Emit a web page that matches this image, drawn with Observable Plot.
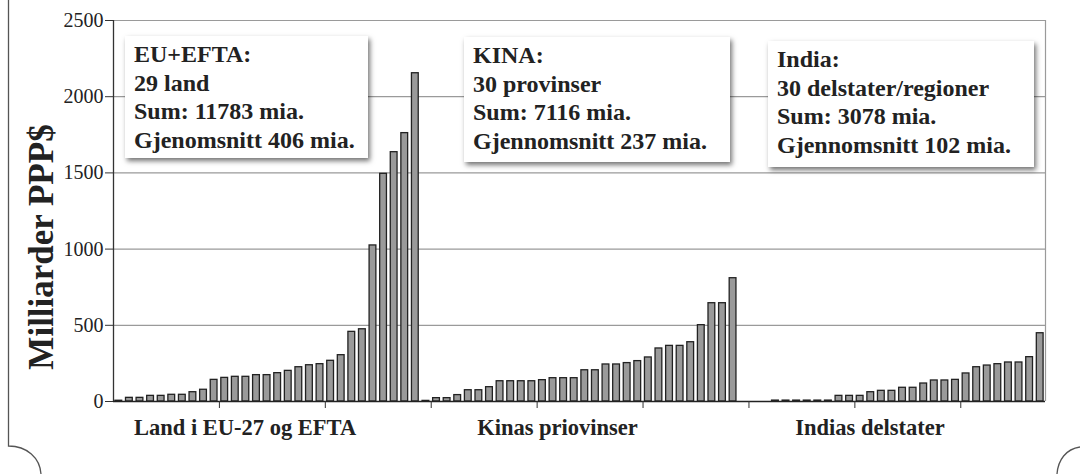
<!DOCTYPE html>
<html><head><meta charset="utf-8">
<script src="https://cdn.jsdelivr.net/npm/d3@7"></script>
<script src="https://cdn.jsdelivr.net/npm/@observablehq/plot@0.6"></script>
<style>
body{margin:0;background:#fff;}
#wrap{position:relative;width:1080px;height:474px;overflow:hidden;font-family:"Liberation Serif",serif;}
.box{position:absolute;background:#fff;box-shadow:2px 3px 5px rgba(0,0,0,0.55);font-weight:bold;font-size:24px;line-height:28.5px;color:#222;padding:4px 9px;box-sizing:border-box;white-space:nowrap;}
#deco{position:absolute;left:0;top:0;pointer-events:none;}
</style></head><body>
<div id="wrap"><div id="chart"></div></div>
<script>
// Values in billions PPP$, sorted ascending within each group
const euValues = [5,24,24,37,37,44,44,61,77,142,155,162,162,173,173,186,201,225,238,245,267,304,457,474,1024,1494,1636,1761,2154];
const chinaValues = [4,22,22,42,74,74,94,133,133,133,133,140,153,153,153,205,205,243,243,252,265,289,348,365,365,389,501,645,645,809];
const indiaValues = [0,0,0,6,6,6,6,6,6,37,37,37,61,70,70,90,90,118,138,138,142,184,225,236,245,256,256,291,448];
const groupLabels = ["Land i EU-27 og EFTA","Kinas priovinser","Indias delstater"];
const yTicks = [0,500,1000,1500,2000,2500];
const boxTexts = [
  ["EU+EFTA:","29 land","Sum: 11783 mia.","Gjenomsnitt 406 mia."],
  ["KINA:","30 provinser","Sum: 7116 mia.","Gjennomsnitt 237 mia."],
  ["India:","30 delstater/regioner","Sum: 3078 mia.","Gjennomsnitt 102 mia."]
];
const yTitle = "Milliarder PPP$";

const series = [euValues, chinaValues, indiaValues];
const rows = [];
const groups = [];
let offset = 0;
series.forEach((vals, g) => {
  vals.forEach((v, k) => rows.push({group: g, i: offset + k, value: v}));
  groups.push({label: groupLabels[g], center: offset + vals.length / 2});
  offset += vals.length;
});
const n = rows.length;
const xTickVals = d3.range(10, n, 10);

const chart = Plot.plot({
  width: 1080, height: 474,
  marginLeft: 113, marginRight: 35, marginTop: 20, marginBottom: 73,
  style: {fontFamily: "Liberation Serif", fontSize: "20px", color: "#222", background: "transparent", overflow: "visible"},
  x: {domain: [0, n], axis: null},
  y: {domain: [0, 2500], axis: null},
  marks: [
    Plot.gridY(yTicks.filter(v => v > 0), {stroke: "#9a9a9a", strokeOpacity: 1, strokeWidth: 1.2}),
    Plot.ruleX([n], {stroke: "#9a9a9a", strokeWidth: 1.2}),
    Plot.rectY(rows.filter(d => d.value > 0), {x1: d => d.i + 0.18, x2: d => d.i + 0.82, y: "value", fill: "#9a9a9a", stroke: "#222", strokeWidth: 1.3}),
    Plot.axisY({ticks: yTicks, tickSize: 8, tickPadding: 2, tickFormat: d => String(d), fontSize: 20, stroke: "#333", label: null, letterSpacing: 2.5}),
    Plot.ruleX([0], {stroke: "#333", strokeWidth: 1.3}),
    Plot.ruleY([0], {stroke: "#222", strokeWidth: 1.6}),
    Plot.axisX({ticks: xTickVals, tickSize: 7, tickFormat: () => "", label: null, stroke: "#333"}),
    Plot.text(groups, {x: "center", y: 0, text: "label", dy: 26, dx: -22, fontWeight: "bold", fontSize: 22.5, fill: "#222"}),
    Plot.text([yTitle], {frameAnchor: "left", textAnchor: "middle", rotate: -90, dx: -72, dy: 36, fontSize: 35, fontWeight: "bold", fill: "#222"})
  ]
});
document.getElementById("chart").appendChild(chart);

// annotation boxes
const wrap = document.getElementById("wrap");
const boxGeom = [
  {left: 125, top: 36, width: 243, height: 122},
  {left: 464, top: 37, width: 266, height: 125},
  {left: 768, top: 41, width: 266, height: 126}
];
boxTexts.forEach((lines, k) => {
  const d = document.createElement("div");
  d.className = "box";
  const g = boxGeom[k];
  d.style.left = g.left + "px"; d.style.top = g.top + "px";
  d.style.width = g.width + "px"; d.style.height = g.height + "px";
  lines.forEach(t => { const s = document.createElement("div"); s.textContent = t; d.appendChild(s); });
  wrap.appendChild(d);
});

// page decoration frame
const ns = "http://www.w3.org/2000/svg";
const deco = document.createElementNS(ns, "svg");
deco.setAttribute("id", "deco");
deco.setAttribute("width", 1080); deco.setAttribute("height", 474);
["M8.5,0 V446 C27,446 40,458 41,474", "M1080,447 C1066,449 1058,460 1057,474"].forEach(p => {
  const path = document.createElementNS(ns, "path");
  path.setAttribute("d", p); path.setAttribute("fill", "none");
  path.setAttribute("stroke", "#555"); path.setAttribute("stroke-width", "1.3");
  deco.appendChild(path);
});
wrap.appendChild(deco);
</script>
</body></html>
